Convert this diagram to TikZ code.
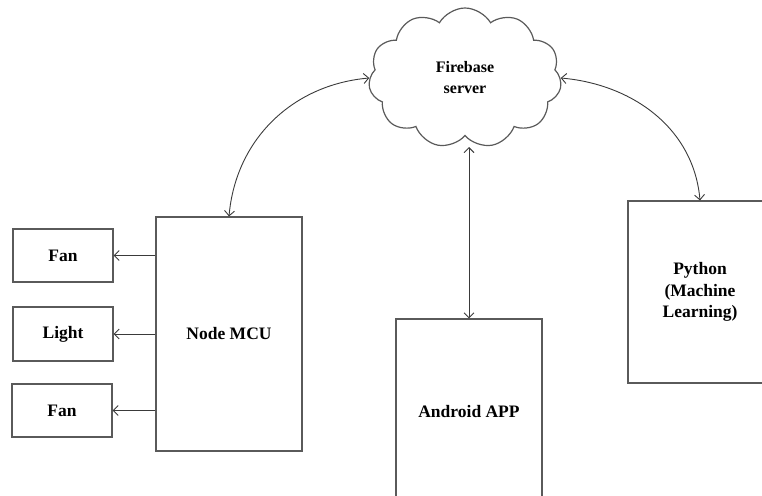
\documentclass[tikz,border=0pt]{standalone}
\usepackage{fontspec}
\setmainfont{Liberation Serif}
\usetikzlibrary{shapes.symbols,arrows.meta}
\definecolor{boxline}{HTML}{5A5A5A}
\definecolor{arrline}{HTML}{3A3A3A}
\tikzset{
  box/.style={draw=boxline, line width=1.2pt, rectangle, inner sep=0pt, align=center,
    font=\fontsize{17.5}{21.5}\selectfont\bfseries},
  conn/.style={draw=arrline, line width=0.9pt, arrows={Straight Barb[length=5pt,width=10pt]-Straight Barb[length=5pt,width=10pt]}},
  oneway/.style={draw=arrline, line width=0.9pt, arrows={-Straight Barb[length=5pt,width=10pt]}}
}
\begin{document}
\begin{tikzpicture}[x=1pt,y=-1pt]
\useasboundingbox (0,0) rectangle (762,495);
\clip (0,0) rectangle (762,495);
\node[box, minimum width=100pt, minimum height=53pt] (fan1) at (63,255.5) {Fan};
\node[box, minimum width=100pt, minimum height=54pt] (light) at (63,334) {Light};
\node[box, minimum width=100pt, minimum height=53pt] (fan2) at (62,410.5) {Fan};
\node[box, minimum width=146pt, minimum height=234pt] (mcu) at (229,334) {Node MCU};
\node[box, minimum width=146pt, minimum height=186pt] (android) at (469,412) {Android APP};
\node[box, minimum width=144pt, minimum height=182pt] (python) at (700,292) {Python\\(Machine\\Learning)};
\node[cloud, draw=boxline, line width=1.2pt, cloud puffs=11, cloud puff arc=120, aspect=1.38,
      minimum width=193pt, minimum height=140pt, inner sep=0pt, align=center,
      font=\fontsize{16}{21}\selectfont\bfseries] (cloud) at (465,78) {Firebase\\server};
\coordinate (cloudbot) at (469,147);
\draw[oneway] (fan1.east -| mcu.west) -- (fan1.east);
\draw[oneway] (light.east -| mcu.west) -- (light.east);
\draw[oneway] (fan2.east -| mcu.west) -- (fan2.east);
\draw[conn] (mcu.north) to[out=85,in=185] (cloud.west);
\draw[conn] (cloud.east) to[out=-5,in=95] (python.north);
\draw[conn] (cloudbot) -- (android.north);
\end{tikzpicture}
\end{document}
